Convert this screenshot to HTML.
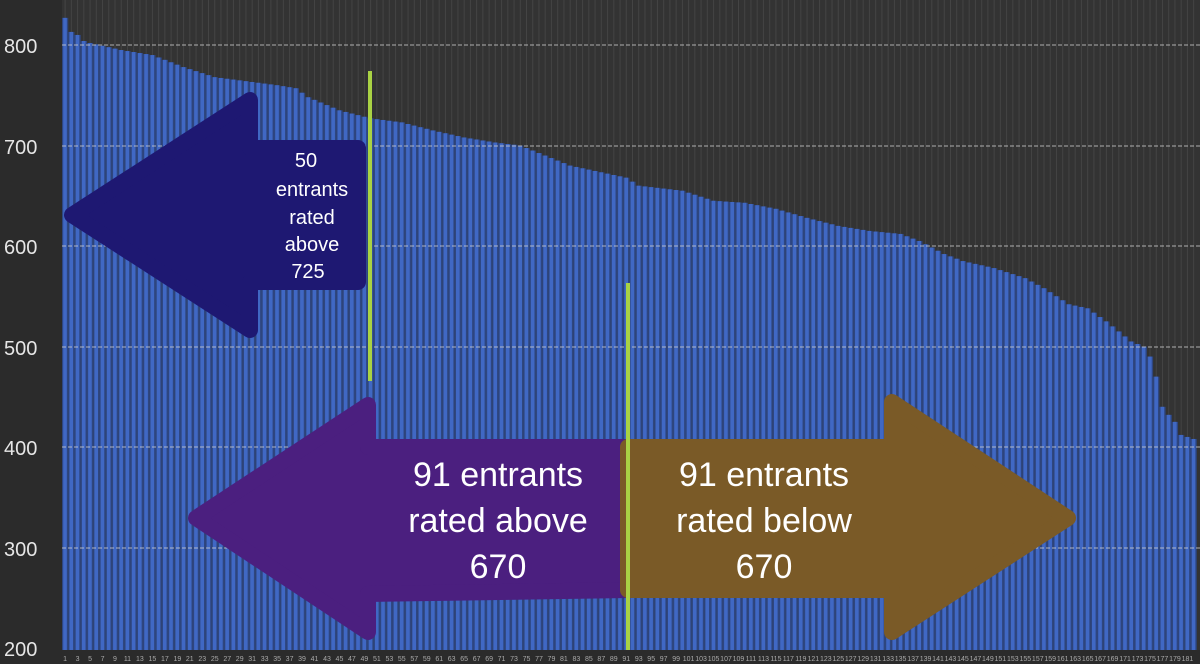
<!DOCTYPE html>
<html><head><meta charset="utf-8"><style>
html,body{margin:0;padding:0;background:#2b2b2b;}
svg{display:block;font-family:"Liberation Sans",sans-serif;}
</style></head><body>
<svg id="s" width="1200" height="664" viewBox="0 0 1200 664" xmlns="http://www.w3.org/2000/svg">
<rect width="1200" height="664" fill="#2b2b2b"/>
<g id="vgrid"></g>
<g id="bars"></g>
<g id="grid"></g>
<g fill="#e6e6e6" font-size="20">
<text x="4" y="53">800</text><text x="4" y="154">700</text><text x="4" y="254">600</text>
<text x="4" y="355">500</text><text x="4" y="455">400</text><text x="4" y="556">300</text><text x="4" y="656">200</text>
</g>
<g id="xl" fill="#aaa" font-size="7"></g>
<path d="M250,100 L250,148 L358,148 L358,282 L250,282 L250,330 L72,215 Z" fill="#1e1872" stroke="#1e1872" stroke-width="16" stroke-linejoin="round"/>
<g fill="#fff" font-size="20" text-anchor="middle">
<text x="306" y="167">50</text><text x="312" y="196">entrants</text><text x="312" y="224">rated</text><text x="312" y="251">above</text><text x="308" y="278">725</text>
</g>
<path d="M368,405 L368,447 L628,447 L628,590 L368,594 L368,632 L196,518 Z" fill="#4b1f7f" stroke="#4b1f7f" stroke-width="16" stroke-linejoin="round"/>
<path d="M628,447 L892,447 L892,402 L1068,518 L892,632 L892,590 L628,590 Z" fill="#7a5a27" stroke="#7a5a27" stroke-width="16" stroke-linejoin="round"/>
<g fill="#fff" font-size="34" text-anchor="middle">
<text x="498" y="486">91 entrants</text><text x="498" y="532">rated above</text><text x="498" y="578">670</text>
<text x="764" y="486">91 entrants</text><text x="764" y="532">rated below</text><text x="764" y="578">670</text>
</g>
<line x1="370" y1="71" x2="370" y2="381" stroke="#a9d244" stroke-width="4"/>
<line x1="628" y1="283" x2="628" y2="650" stroke="#a9d244" stroke-width="4"/>
</svg>
<script>
var pts=[[1,827],[2,813],[3,810],[4,804],[5,802],[10,795],[15,790],[20,778],[25,768],[30,764],[35,760],[38,757],[40,748],[45,735],[50,727],[55,723],[60,715],[65,708],[70,703],[74,700],[78,690],[82,680],[88,672],[91,668],[93,660],[100,655],[105,645],[110,643],[115,637],[120,628],[125,620],[130,615],[135,612],[138,605],[142,592],[145,585],[150,578],[155,568],[158,558],[160,550],[162,542],[165,538],[168,525],[171,510],[172,505],[174,500],[175,490],[176,470],[177,440],[178,432],[179,425],[180,412],[181,410],[182,408]];
function val(i){for(var k=0;k<pts.length-1;k++){var a=pts[k],b=pts[k+1];if(i>=a[0]&&i<=b[0]){return a[1]+(b[1]-a[1])*(i-a[0])/(b[0]-a[0]);}}return 408;}
var ns="http://www.w3.org/2000/svg",bars=document.getElementById('bars'),vg=document.getElementById('vgrid'),xl=document.getElementById('xl'),gr=document.getElementById('grid');
var x0=62,p=6.235;
function el(t,a,par){var e=document.createElementNS(ns,t);for(var k in a)e.setAttribute(k,a[k]);par.appendChild(e);return e;}
el('rect',{x:x0,y:0,width:1200-x0,height:650,fill:'#333333'},vg);
for(var i=1;i<=182;i++){var x=x0+(i-1)*p;
el('line',{x1:x+p/2,y1:0,x2:x+p/2,y2:650,stroke:'#444',"stroke-width":1},vg);
var v=val(i),y=648-(v-200)*1.005;
el('rect',{x:x,y:y,width:p,height:650-y,fill:'#2e4680'},bars);
el('rect',{x:x+1.2,y:y,width:p-2.6,height:650-y,fill:'#4068c4'},bars);
if(i%2==1){var t=el('text',{x:x+p/2,y:661,"text-anchor":"middle"},xl);t.textContent=i;}}
[45,146,246,347,447,548].forEach(function(y){el('line',{x1:x0,y1:y,x2:1200,y2:y,stroke:'#cfcfcf',"stroke-width":1,"stroke-dasharray":"4 2",opacity:0.8},gr);});
</script>
</body></html>
